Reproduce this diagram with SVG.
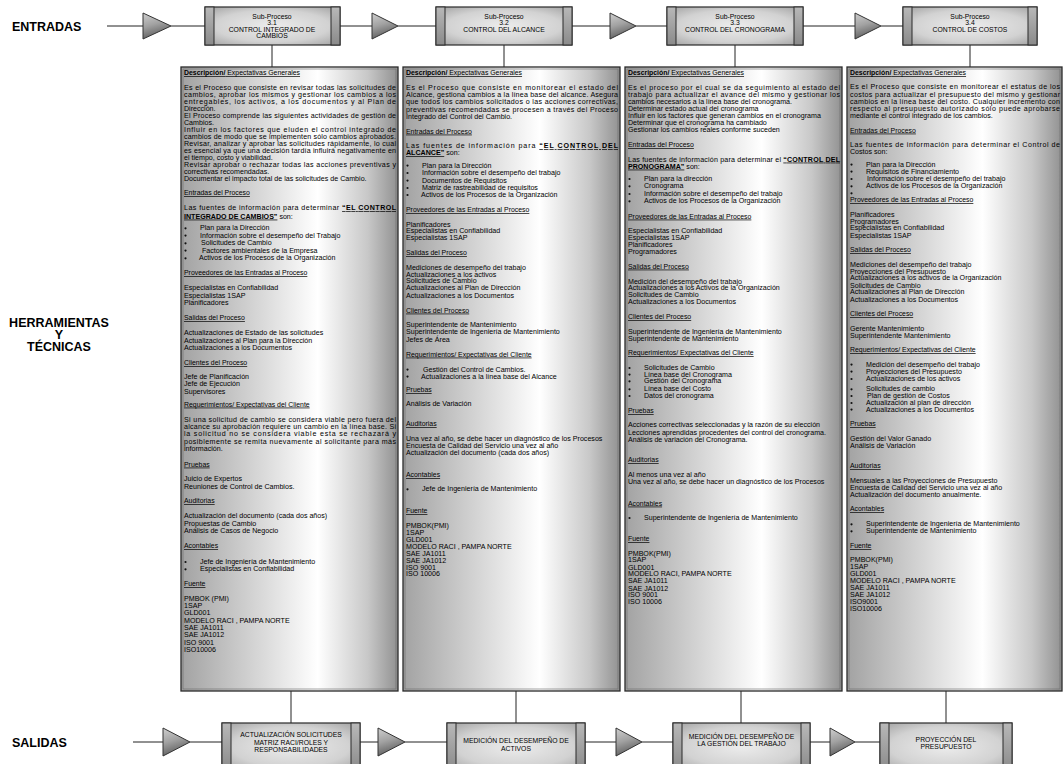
<svg xmlns="http://www.w3.org/2000/svg" width="1063" height="764" viewBox="0 0 1063 764">
<defs>
<linearGradient id="gPanel" x1="0" y1="0" x2="1" y2="0">
<stop offset="0" stop-color="#a2a2a2"/><stop offset="0.12" stop-color="#b4b4b4"/><stop offset="0.42" stop-color="#e0e0e0"/><stop offset="0.63" stop-color="#ffffff"/><stop offset="0.86" stop-color="#c8c8c8"/><stop offset="1" stop-color="#919191"/>
</linearGradient>
<radialGradient id="gBox" cx="0.5" cy="0.5" r="0.7">
<stop offset="0" stop-color="#ececec"/><stop offset="0.6" stop-color="#d2d2d2"/><stop offset="1" stop-color="#a0a0a0"/>
</radialGradient>
<linearGradient id="gBar" x1="0" y1="0" x2="0" y2="1">
<stop offset="0" stop-color="#b8b8b8"/><stop offset="1" stop-color="#8a8a8a"/>
</linearGradient>
<linearGradient id="gTri" x1="0" y1="0" x2="0.3" y2="1">
<stop offset="0" stop-color="#cfcfcf"/><stop offset="0.5" stop-color="#a2a2a2"/><stop offset="1" stop-color="#5e5e5e"/>
</linearGradient>
</defs>
<style>
text{font-family:"Liberation Sans",Arial,sans-serif;fill:#000}
.t{font-size:7.1px}
.h{font-size:6.9px;text-decoration:underline}
.bu{font-weight:bold;text-decoration:underline}
.bx{font-size:6.8px;text-anchor:middle}
.lbl{font-size:12.5px;font-weight:bold;fill:#000}
.panel{fill:url(#gPanel);stroke:#2a2a2a;stroke-width:1.3}
.pin{fill:none;stroke:#6a6a6a;stroke-width:0.6}
.box{fill:url(#gBox);stroke:#2a2a2a;stroke-width:1.2}
.bar{fill:url(#gBar);stroke:#2a2a2a;stroke-width:1}
.tri{fill:url(#gTri);stroke:#333;stroke-width:1}
.ln{stroke:#222;stroke-width:1;fill:none}
.dot{fill:#111}
</style>
<rect width="1063" height="764" fill="#ffffff"/>

<g id="labels">
<text class="lbl" x="12" y="31">ENTRADAS</text>
<text class="lbl" x="59" y="327" text-anchor="middle">HERRAMIENTAS</text>
<text class="lbl" x="59" y="339" text-anchor="middle">Y</text>
<text class="lbl" x="59" y="351" text-anchor="middle">TÉCNICAS</text>
<text class="lbl" x="12" y="747">SALIDAS</text>
</g>

<g id="connectors">
<path class="ln" d="M107,26H143 M171,26H205 M340,26H372 M398,26H436 M572,26H610 M636,26H667 M803,26H855 M881,26H903"/>
<path class="ln" d="M272,45V67 M504,45V67 M735,45V67 M970,45V67"/>
<path class="ln" d="M291,691V723 M516,691V723 M741,691V723 M946,691V723"/>
<path class="ln" d="M133,742H163 M190,742H222 M360,742H378 M405,742H447 M585,742H616 M642,742H673 M810,742H830 M855,742H880"/>
</g>

<g id="arrows">
<path class="tri" d="M143,13L171,26L143,39Z"/>
<path class="tri" d="M372,13L398,26L372,39Z"/>
<path class="tri" d="M610,13L636,26L610,39Z"/>
<path class="tri" d="M855,13L881,26L855,39Z"/>
<path class="tri" d="M163,728L190,742L163,756Z"/>
<path class="tri" d="M378,728L405,742L378,756Z"/>
<path class="tri" d="M616,728L642,742L616,756Z"/>
<path class="tri" d="M830,728L855,742L830,756Z"/>
</g>

<g id="sub-3-1">
<rect class="box" x="205" y="7" width="135" height="38"/>
<rect class="bar" x="205" y="7" width="9" height="38"/><rect class="bar" x="331" y="7" width="9" height="38"/>
<text class="bx" x="272" y="18.5">Sub-Proceso</text><text class="bx" x="272" y="25">3.1</text>
<text class="bx" x="272" y="31.5">CONTROL INTEGRADO DE</text><text class="bx" x="272" y="38">CAMBIOS</text>
</g>
<g id="sub-3-2">
<rect class="box" x="436" y="7" width="136" height="38"/>
<rect class="bar" x="436" y="7" width="9" height="38"/><rect class="bar" x="563" y="7" width="9" height="38"/>
<text class="bx" x="504" y="18.5">Sub-Proceso</text><text class="bx" x="504" y="25">3.2</text>
<text class="bx" x="504" y="31.5">CONTROL DEL ALCANCE</text>
</g>
<g id="sub-3-3">
<rect class="box" x="667" y="7" width="136" height="38"/>
<rect class="bar" x="667" y="7" width="9" height="38"/><rect class="bar" x="794" y="7" width="9" height="38"/>
<text class="bx" x="735" y="18.5">Sub-Proceso</text><text class="bx" x="735" y="25">3.3</text>
<text class="bx" x="735" y="31.5">CONTROL DEL CRONOGRAMA</text>
</g>
<g id="sub-3-4">
<rect class="box" x="903" y="7" width="134" height="38"/>
<rect class="bar" x="903" y="7" width="9" height="38"/><rect class="bar" x="1028" y="7" width="9" height="38"/>
<text class="bx" x="970" y="18.5">Sub-Proceso</text><text class="bx" x="970" y="25">3.4</text>
<text class="bx" x="970" y="31.5">CONTROL DE COSTOS</text>
</g>

<g id="panel-1">
<rect class="panel" x="181" y="67" width="217" height="624"/>
<rect class="pin" x="183" y="69" width="213" height="620"/>
<text class="h" x="184" y="75.3"><tspan font-weight="bold">Descripción/</tspan> Expectativas Generales</text>
<text class="t" x="184" y="90" textLength="212" lengthAdjust="spacing">Es el Proceso que consiste en revisar todas las solicitudes de</text>
<text class="t" x="184" y="97" textLength="212" lengthAdjust="spacing">cambios, aprobar los mismos y gestionar los cambios a los</text>
<text class="t" x="184" y="104.1" textLength="212" lengthAdjust="spacing">entregables, los activos, a los documentos y al Plan de</text>
<text class="t" x="184" y="111.1">Dirección.</text>
<text class="t" x="184" y="118.1" textLength="212" lengthAdjust="spacing">El Proceso comprende las siguientes actividades de gestión de</text>
<text class="t" x="184" y="125.2">Cambios.</text>
<text class="t" x="184" y="132.2" textLength="212" lengthAdjust="spacing">Influir en los factores que eluden el control integrado de</text>
<text class="t" x="184" y="139.2" textLength="212" lengthAdjust="spacing">cambios de modo que se implementen sólo cambios aprobados.</text>
<text class="t" x="184" y="146.3" textLength="212" lengthAdjust="spacing">Revisar, analizar y aprobar las solicitudes rápidamente, lo cual</text>
<text class="t" x="184" y="153.3" textLength="212" lengthAdjust="spacing">es esencial ya que una decisión tardía influirá negativamente en</text>
<text class="t" x="184" y="160.3">el tiempo, costo y viabilidad.</text>
<text class="t" x="184" y="167.4" textLength="212" lengthAdjust="spacing">Revisar aprobar o rechazar todas las acciones preventivas y</text>
<text class="t" x="184" y="174.4">correctivas recomendadas.</text>
<text class="t" x="184" y="181.4">Documentar el impacto total de las solicitudes de Cambio.</text>
<text class="h" x="184" y="195">Entradas del Proceso</text>
<text class="t" x="184" y="210.3" textLength="212" lengthAdjust="spacing">Las fuentes de información para determinar <tspan class="bu">“EL CONTROL</tspan></text>
<text class="t" x="184" y="218.6"><tspan class="bu">INTEGRADO DE CAMBIOS”</tspan> son:</text>
<circle class="dot" cx="185.5" cy="228.3" r="1.1"/><text class="t" x="200" y="230.3">Plan para la Dirección</text>
<circle class="dot" cx="185.5" cy="235.6" r="1.1"/><text class="t" x="200" y="237.6">Información sobre el desempeño del Trabajo</text>
<circle class="dot" cx="185.5" cy="243.3" r="1.1"/><text class="t" x="201" y="245.3">Solicitudes de Cambio</text>
<circle class="dot" cx="185.5" cy="250.6" r="1.1"/><text class="t" x="202" y="252.6">Factores ambientales de la Empresa</text>
<circle class="dot" cx="185.5" cy="258.3" r="1.1"/><text class="t" x="199" y="260.3">Activos de los Procesos de la Organización</text>
<text class="h" x="184" y="275">Proveedores de las Entradas al Proceso</text>
<text class="t" x="184" y="289.6">Especialistas en Confiabilidad</text>
<text class="t" x="184" y="297.6">Especialistas 1SAP</text>
<text class="t" x="184" y="305">Planificadores</text>
<text class="h" x="184" y="320.3">Salidas del Proceso</text>
<text class="t" x="184" y="335">Actualizaciones de Estado de las solicitudes</text>
<text class="t" x="184" y="342.6">Actualizaciones al Plan para la Dirección</text>
<text class="t" x="184" y="350">Actualizaciones a los Documentos</text>
<text class="h" x="184" y="365.3">Clientes del Proceso</text>
<text class="t" x="184" y="379">Jefe de Planificación</text>
<text class="t" x="184" y="386.3">Jefe de Ejecución</text>
<text class="t" x="184" y="393.5">Supervisores</text>
<text class="h" x="184" y="406.6">Requerimientos/ Expectativas del Cliente</text>
<text class="t" x="184" y="421.6" textLength="212" lengthAdjust="spacing">Si una solicitud de cambio se considera viable pero fuera del</text>
<text class="t" x="184" y="428.9" textLength="212" lengthAdjust="spacing">alcance su aprobación requiere un cambio en la línea base. Si</text>
<text class="t" x="184" y="436.3" textLength="212" lengthAdjust="spacing">la solicitud no se considera viable esta se rechazará y</text>
<text class="t" x="184" y="443.6" textLength="212" lengthAdjust="spacing">posiblemente se remita nuevamente al solicitante para más</text>
<text class="t" x="184" y="451">información.</text>
<text class="h" x="184" y="466.6">Pruebas</text>
<text class="t" x="184" y="481.3">Juicio de Expertos</text>
<text class="t" x="184" y="488.5">Reuniones de Control de Cambios.</text>
<text class="h" x="184" y="503.3">Auditorias</text>
<text class="t" x="184" y="518.3">Actualización del documento (cada dos años)</text>
<text class="t" x="184" y="525.6">Propuestas de Cambio</text>
<text class="t" x="184" y="533">Análisis de Casos de Negocio</text>
<text class="h" x="184" y="548">Acontables</text>
<circle class="dot" cx="185.5" cy="562" r="1.1"/><text class="t" x="200" y="564">Jefe de Ingeniería de Mantenimiento</text>
<circle class="dot" cx="185.5" cy="569.3" r="1.1"/><text class="t" x="200" y="571.3">Especialistas en Confiabilidad</text>
<text class="h" x="184" y="586.3">Fuente</text>
<text class="t" x="184" y="600.6">PMBOK (PMI)</text>
<text class="t" x="184" y="608">1SAP</text>
<text class="t" x="184" y="615.3">GLD001</text>
<text class="t" x="184" y="622.6">MODELO RACI , PAMPA NORTE</text>
<text class="t" x="184" y="630">SAE JA1011</text>
<text class="t" x="184" y="637.3">SAE JA1012</text>
<text class="t" x="184" y="644.6">ISO 9001</text>
<text class="t" x="184" y="652">ISO10006</text>
</g>

<g id="panel-2">
<rect class="panel" x="403" y="67" width="217" height="624"/>
<rect class="pin" x="405" y="69" width="213" height="620"/>
<text class="h" x="406" y="75.3"><tspan font-weight="bold">Descripción/</tspan> Expectativas Generales</text>
<text class="t" x="406" y="90" textLength="212" lengthAdjust="spacing">Es el Proceso que consiste en monitorear el estado del</text>
<text class="t" x="406" y="97" textLength="212" lengthAdjust="spacing">Alcance, gestiona cambios a la línea base del alcance. Asegura</text>
<text class="t" x="406" y="104.3" textLength="212" lengthAdjust="spacing">que todos los cambios solicitados o las acciones correctivas,</text>
<text class="t" x="406" y="111.6" textLength="212" lengthAdjust="spacing">preventivas recomendadas se procesen a través del Proceso</text>
<text class="t" x="406" y="118.6">Integrado del Control del Cambio.</text>
<text class="h" x="406" y="133.6">Entradas del Proceso</text>
<text class="t" x="406" y="148.3" textLength="212" lengthAdjust="spacing">Las fuentes de información para <tspan class="bu">“EL CONTROL DEL</tspan></text>
<text class="t" x="406" y="155.3"><tspan class="bu">ALCANCE”</tspan> son:</text>
<circle class="dot" cx="407.5" cy="165.6" r="1.1"/><text class="t" x="422" y="167.6">Plan para la Dirección</text>
<circle class="dot" cx="407.5" cy="173" r="1.1"/><text class="t" x="422" y="175">Información sobre el desempeño del trabajo</text>
<circle class="dot" cx="407.5" cy="180.6" r="1.1"/><text class="t" x="422" y="182.6">Documentos de Requisitos</text>
<circle class="dot" cx="407.5" cy="188" r="1.1"/><text class="t" x="422" y="190">Matriz de rastreabilidad de requisitos</text>
<circle class="dot" cx="407.5" cy="195" r="1.1"/><text class="t" x="421" y="197">Activos de los Procesos de la Organización</text>
<text class="h" x="406" y="212">Proveedores de las Entradas al Proceso</text>
<text class="t" x="406" y="226.6">Planificadores</text>
<text class="t" x="406" y="233.3">Especialistas en Confiabilidad</text>
<text class="t" x="406" y="240.3">Especialistas 1SAP</text>
<text class="h" x="406" y="255">Salidas del Proceso</text>
<text class="t" x="406" y="270">Mediciones de desempeño del trabajo</text>
<text class="t" x="406" y="276.6">Actualizaciones a los activos</text>
<text class="t" x="406" y="283.3">Solicitudes de Cambio</text>
<text class="t" x="406" y="290.3">Actualizaciones al Plan de Dirección</text>
<text class="t" x="406" y="297.6">Actualizaciones a los Documentos</text>
<text class="h" x="406" y="312.6">Clientes del Proceso</text>
<text class="t" x="406" y="327">Superintendente de Mantenimiento</text>
<text class="t" x="406" y="334.3">Superintendente de Ingeniería de Mantenimiento</text>
<text class="t" x="406" y="341.6">Jefes de Área</text>
<text class="h" x="406" y="356.6">Requerimientos/ Expectativas del Cliente</text>
<circle class="dot" cx="407.5" cy="369.6" r="1.1"/><text class="t" x="423" y="371.6">Gestión del Control de Cambios.</text>
<circle class="dot" cx="407.5" cy="376.6" r="1.1"/><text class="t" x="421" y="378.6">Actualizaciones a la línea base del Alcance</text>
<text class="h" x="406" y="392.3">Pruebas</text>
<text class="t" x="406" y="406.3">Análisis de Variación</text>
<text class="h" x="406" y="426.3">Auditorias</text>
<text class="t" x="406" y="441.3">Una vez al año, se debe hacer un diagnóstico de los Procesos</text>
<text class="t" x="406" y="448.3">Encuesta de Calidad del Servicio una vez al año</text>
<text class="t" x="406" y="455">Actualización del documento (cada dos años)</text>
<text class="h" x="406" y="477.3">Acontables</text>
<circle class="dot" cx="407.5" cy="489.3" r="1.1"/><text class="t" x="422" y="491.3">Jefe de Ingeniería de Mantenimiento</text>
<text class="h" x="406" y="513.3">Fuente</text>
<text class="t" x="406" y="528">PMBOK(PMI)</text>
<text class="t" x="406" y="535">1SAP</text>
<text class="t" x="406" y="542.3">GLD001</text>
<text class="t" x="406" y="549">MODELO RACI , PAMPA NORTE</text>
<text class="t" x="406" y="555.6">SAE JA1011</text>
<text class="t" x="406" y="562.6">SAE JA1012</text>
<text class="t" x="406" y="569.6">ISO 9001</text>
<text class="t" x="406" y="576.3">ISO 10006</text>
</g>

<g id="panel-3">
<rect class="panel" x="625" y="67" width="217" height="624"/>
<rect class="pin" x="627" y="69" width="213" height="620"/>
<text class="h" x="628" y="75.3"><tspan font-weight="bold">Descripción/</tspan> Expectativas Generales</text>
<text class="t" x="628" y="90" textLength="212" lengthAdjust="spacing">Es el proceso por el cual se da seguimiento al estado del</text>
<text class="t" x="628" y="97" textLength="212" lengthAdjust="spacing">trabajo para actualizar el avance del mismo y gestionar los</text>
<text class="t" x="628" y="103.6">cambios necesarios a la línea base del cronograma.</text>
<text class="t" x="628" y="111">Determinar estado actual del cronograma</text>
<text class="t" x="628" y="117.6">Influir en los factores que generan cambios en el cronograma</text>
<text class="t" x="628" y="125">Determinar que el cronograma ha cambiado</text>
<text class="t" x="628" y="132">Gestionar los cambios reales conforme suceden</text>
<text class="h" x="628" y="147">Entradas del Proceso</text>
<text class="t" x="628" y="161.6" textLength="212" lengthAdjust="spacing">Las fuentes de información para determinar el <tspan class="bu">“CONTROL DEL</tspan></text>
<text class="t" x="628" y="168.6"><tspan class="bu">PRONOGRAMA”</tspan> son:</text>
<circle class="dot" cx="629.5" cy="179" r="1.1"/><text class="t" x="644" y="181">Plan para la  dirección</text>
<circle class="dot" cx="629.5" cy="186.3" r="1.1"/><text class="t" x="644" y="188.3">Cronograma</text>
<circle class="dot" cx="629.5" cy="194" r="1.1"/><text class="t" x="644" y="196">Información sobre el desempeño del trabajo</text>
<circle class="dot" cx="629.5" cy="201.3" r="1.1"/><text class="t" x="644" y="203.3">Activos de los Procesos de la Organización</text>
<text class="h" x="628" y="218.6">Proveedores de las Entradas al Proceso</text>
<text class="t" x="628" y="233.3">Especialistas en Confiabilidad</text>
<text class="t" x="628" y="240.3">Especialistas 1SAP</text>
<text class="t" x="628" y="247">Planificadores</text>
<text class="t" x="628" y="254.3">Programadores</text>
<text class="h" x="628" y="268.6">Salidas del Proceso</text>
<text class="t" x="628" y="283.6">Medición del desempeño del trabajo</text>
<text class="t" x="628" y="290.3">Actualizaciones a los Activos de la Organización</text>
<text class="t" x="628" y="297">Solicitudes de Cambio</text>
<text class="t" x="628" y="304.3">Actualizaciones a los Documentos</text>
<text class="h" x="628" y="319.3">Clientes del Proceso</text>
<text class="t" x="628" y="333.6">Superintendente de Ingeniería de Mantenimiento</text>
<text class="t" x="628" y="341">Superintendente de Mantenimiento</text>
<text class="h" x="628" y="355.3">Requerimientos/ Expectativas del Cliente</text>
<circle class="dot" cx="629.5" cy="368" r="1.1"/><text class="t" x="644" y="370">Solicitudes de Cambio</text>
<circle class="dot" cx="629.5" cy="374.6" r="1.1"/><text class="t" x="644" y="376.6">Línea base del Cronograma</text>
<circle class="dot" cx="629.5" cy="381.3" r="1.1"/><text class="t" x="644" y="383.3">Gestión del Cronograma</text>
<circle class="dot" cx="629.5" cy="389.3" r="1.1"/><text class="t" x="644" y="391.3">Línea base del Costo</text>
<circle class="dot" cx="629.5" cy="396" r="1.1"/><text class="t" x="644" y="398">Datos del cronograma</text>
<text class="h" x="628" y="413">Pruebas</text>
<text class="t" x="628" y="427.3">Acciones correctivas seleccionadas y la razón de su elección</text>
<text class="t" x="628" y="434.6">Lecciones aprendidas procedentes del control del cronograma.</text>
<text class="t" x="628" y="441.6">Análisis de variación del Cronograma.</text>
<text class="h" x="628" y="462.3">Auditorias</text>
<text class="t" x="628" y="476.6">Al menos una vez al año</text>
<text class="t" x="628" y="484">Una vez al año, se debe hacer un diagnóstico de los Procesos</text>
<text class="h" x="628" y="505.6">Acontables</text>
<circle class="dot" cx="629.5" cy="518" r="1.1"/><text class="t" x="644" y="520">Superintendente de Ingeniería de Mantenimiento</text>
<text class="h" x="628" y="541.3">Fuente</text>
<text class="t" x="628" y="555.6">PMBOK(PMI)</text>
<text class="t" x="628" y="562.3">1SAP</text>
<text class="t" x="628" y="569.6">GLD001</text>
<text class="t" x="628" y="576.3">MODELO RACI, PAMPA NORTE</text>
<text class="t" x="628" y="583.3">SAE JA1011</text>
<text class="t" x="628" y="590.6">SAE JA1012</text>
<text class="t" x="628" y="597.3">ISO 9001</text>
<text class="t" x="628" y="604">ISO 10006</text>
</g>

<g id="panel-4">
<rect class="panel" x="847" y="67" width="215" height="624"/>
<rect class="pin" x="849" y="69" width="211" height="620"/>
<text class="h" x="850" y="75.3"><tspan font-weight="bold">Descripción/</tspan> Expectativas Generales</text>
<text class="t" x="850" y="89.3" textLength="210" lengthAdjust="spacing">Es el Proceso que consiste en monitorear el estatus de los</text>
<text class="t" x="850" y="96.6" textLength="210" lengthAdjust="spacing">costos para actualizar el presupuesto del mismo y gestionar</text>
<text class="t" x="850" y="103.6" textLength="210" lengthAdjust="spacing">cambios en la línea base del costo. Cualquier incremento con</text>
<text class="t" x="850" y="111" textLength="210" lengthAdjust="spacing">respecto al presupuesto autorizado sólo puede aprobarse</text>
<text class="t" x="850" y="118.3">mediante el control integrado de los cambios.</text>
<text class="h" x="850" y="132.6">Entradas del Proceso</text>
<text class="t" x="850" y="147" textLength="210" lengthAdjust="spacing">Las fuentes de información para determinar el Control de</text>
<text class="t" x="850" y="154.3">Costos son:</text>
<circle class="dot" cx="851.5" cy="164.6" r="1.1"/><text class="t" x="866" y="166.6">Plan para la Dirección</text>
<circle class="dot" cx="851.5" cy="171.6" r="1.1"/><text class="t" x="866" y="173.6">Requisitos de Financiamiento</text>
<circle class="dot" cx="851.5" cy="179" r="1.1"/><text class="t" x="867" y="181">Información sobre el desempeño del trabajo</text>
<circle class="dot" cx="851.5" cy="186.3" r="1.1"/><text class="t" x="866" y="188.3">Activos de los Procesos de la Organización</text>
<circle class="dot" cx="851.5" cy="193.3" r="1.1"/>
<text class="h" x="850" y="202">Proveedores de las Entradas al Proceso</text>
<text class="t" x="850" y="216.6">Planificadores</text>
<text class="t" x="850" y="223.6">Programadores</text>
<text class="t" x="850" y="230.3">Especialistas en Confiabilidad</text>
<text class="t" x="850" y="237.6">Especialistas 1SAP</text>
<text class="h" x="850" y="252">Salidas del Proceso</text>
<text class="t" x="850" y="266.6">Mediciones del desempeño del trabajo</text>
<text class="t" x="850" y="273.6">Proyecciones del Presupuesto</text>
<text class="t" x="850" y="280.3">Actualizaciones a los activos de la Organización</text>
<text class="t" x="850" y="287.6">Solicitudes de Cambio</text>
<text class="t" x="850" y="294.3">Actualizaciones al Plan de Dirección</text>
<text class="t" x="850" y="301.6">Actualizaciones a los Documentos</text>
<text class="h" x="850" y="316">Clientes del Proceso</text>
<text class="t" x="850" y="331">Gerente Mantenimiento</text>
<text class="t" x="850" y="337.6">Superintendente Mantenimiento</text>
<text class="h" x="850" y="352">Requerimientos/ Expectativas del Cliente</text>
<circle class="dot" cx="851.5" cy="364.6" r="1.1"/><text class="t" x="866" y="366.6">Medición del desempeño del trabajo</text>
<circle class="dot" cx="851.5" cy="371.6" r="1.1"/><text class="t" x="866" y="373.6">Proyecciones del Presupuesto</text>
<circle class="dot" cx="851.5" cy="379" r="1.1"/><text class="t" x="866" y="381">Actualizaciones de los activos</text>
<circle class="dot" cx="851.5" cy="389.3" r="1.1"/><text class="t" x="866" y="391.3">Solicitudes de cambio</text>
<circle class="dot" cx="851.5" cy="396" r="1.1"/><text class="t" x="867" y="398">Plan de gestión de Costos</text>
<circle class="dot" cx="851.5" cy="403" r="1.1"/><text class="t" x="866" y="405">Actualización al plan de dirección</text>
<circle class="dot" cx="851.5" cy="409.6" r="1.1"/><text class="t" x="866" y="411.6">Actualizaciones a los Documentos</text>
<text class="h" x="850" y="426.3">Pruebas</text>
<text class="t" x="850" y="441.3">Gestión del Valor Ganado</text>
<text class="t" x="850" y="448">Análisis de Variación</text>
<text class="h" x="850" y="468">Auditorias</text>
<text class="t" x="850" y="483">Mensuales a las Proyecciones de Presupuesto</text>
<text class="t" x="850" y="489.6">Encuesta de Calidad del Servicio una vez al año</text>
<text class="t" x="850" y="496.6">Actualización del documento anualmente.</text>
<text class="h" x="850" y="511.3">Acontables</text>
<circle class="dot" cx="851.5" cy="524.3" r="1.1"/><text class="t" x="866" y="526.3">Superintendente de Ingeniería de Mantenimiento</text>
<circle class="dot" cx="851.5" cy="531.3" r="1.1"/><text class="t" x="866" y="533.3">Superintendente de Mantenimiento</text>
<text class="h" x="850" y="548">Fuente</text>
<text class="t" x="850" y="562.3">PMBOK(PMI)</text>
<text class="t" x="850" y="569">1SAP</text>
<text class="t" x="850" y="576.3">GLD001</text>
<text class="t" x="850" y="583.3">MODELO RACI , PAMPA NORTE</text>
<text class="t" x="850" y="590">SAE JA1011</text>
<text class="t" x="850" y="597.3">SAE JA1012</text>
<text class="t" x="850" y="604">ISO9001</text>
<text class="t" x="850" y="611.3">ISO10006</text>
</g>

<g id="out-1">
<rect class="box" x="222" y="723" width="138" height="48"/>
<rect class="bar" x="222" y="723" width="9" height="48"/><rect class="bar" x="351" y="723" width="9" height="48"/>
<text class="bx" x="291" y="737">ACTUALIZACIÓN SOLICITUDES</text>
<text class="bx" x="291" y="744.5">MATRIZ RACI/ROLES Y</text>
<text class="bx" x="291" y="752">RESPONSABILIDADES</text>
</g>
<g id="out-2">
<rect class="box" x="447" y="723" width="138" height="48"/>
<rect class="bar" x="447" y="723" width="9" height="48"/><rect class="bar" x="576" y="723" width="9" height="48"/>
<text class="bx" x="516" y="743">MEDICIÓN DEL DESEMPEÑO DE</text>
<text class="bx" x="516" y="750.5">ACTIVOS</text>
</g>
<g id="out-3">
<rect class="box" x="673" y="723" width="137" height="48"/>
<rect class="bar" x="673" y="723" width="9" height="48"/><rect class="bar" x="801" y="723" width="9" height="48"/>
<text class="bx" x="741.5" y="738.5">MEDICIÓN DEL DESEMPEÑO DE</text>
<text class="bx" x="741.5" y="746">LA GESTIÓN DEL TRABAJO</text>
</g>
<g id="out-4">
<rect class="box" x="880" y="723" width="132" height="48"/>
<rect class="bar" x="880" y="723" width="9" height="48"/><rect class="bar" x="1003" y="723" width="9" height="48"/>
<text class="bx" x="946" y="741.5">PROYECCIÓN DEL</text>
<text class="bx" x="946" y="749">PRESUPUESTO</text>
</g>
</svg>
